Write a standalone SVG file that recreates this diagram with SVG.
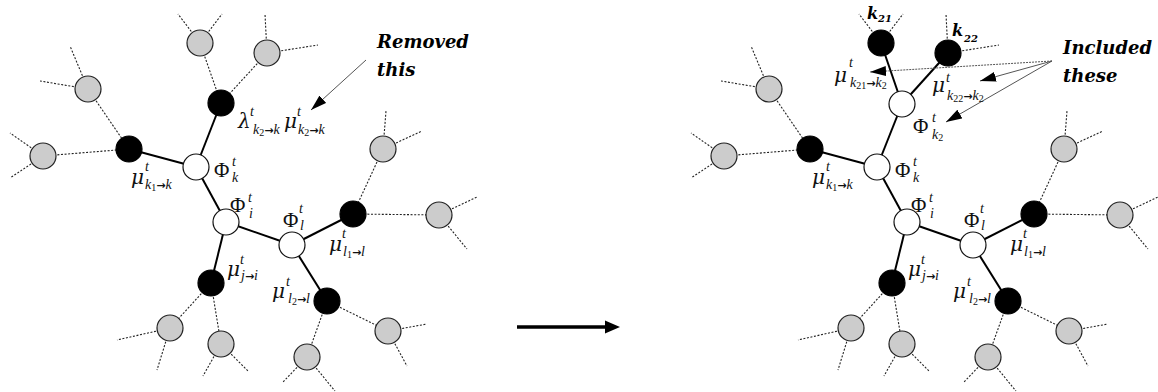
<svg xmlns="http://www.w3.org/2000/svg" width="1158" height="392" viewBox="0 0 1158 392">
<style>
.dot{stroke:#222;stroke-width:1.1;stroke-dasharray:2 1.6;fill:none}
.sol{stroke:#000;stroke-width:2;fill:none}
.gn{fill:#cccccc;stroke:#222;stroke-width:1.2}
.bn{fill:#000;stroke:#000;stroke-width:1.2}
.wn{fill:#fff;stroke:#111;stroke-width:1.2}
.P{font-family:"Liberation Serif","DejaVu Serif",serif;font-size:21px;fill:#111}
.m{font-family:"DejaVu Serif",serif;font-style:italic;font-size:20px;fill:#111}
.s{font-family:"Liberation Serif","DejaVu Serif",serif;font-style:italic;font-size:14px;fill:#111}
.d{font-size:10px;font-style:normal}
.ar{font-size:11px;font-style:normal;font-weight:bold;font-family:"DejaVu Sans",sans-serif}
.lab{font-family:"DejaVu Serif",serif;font-style:italic;font-weight:bold;font-size:18px;fill:#000}
.kb{font-family:"DejaVu Serif",serif;font-style:italic;font-weight:bold;font-size:16px;fill:#000}
.kd{font-family:"DejaVu Serif",serif;font-style:italic;font-weight:bold;font-size:10px;fill:#000}
.pt{stroke:#555;stroke-width:1;fill:none}
</style>
<defs>
<marker id="ah" viewBox="0 0 10 10" refX="10" refY="5" markerWidth="16" markerHeight="10" markerUnits="userSpaceOnUse" orient="auto" preserveAspectRatio="none">
<path d="M0,0 L10,5 L0,10 z" fill="#000"/>
</marker>
</defs>

<g id="connectors">
<g class="dot">
<line x1="200" y1="43" x2="178" y2="14"/><line x1="200" y1="43" x2="222" y2="14"/>
<line x1="267" y1="53" x2="265" y2="14"/><line x1="267" y1="53" x2="318" y2="45"/>
<line x1="88" y1="89" x2="70" y2="46"/><line x1="88" y1="89" x2="40" y2="81"/>
<line x1="43" y1="156" x2="10" y2="133"/><line x1="43" y1="156" x2="10" y2="178"/>
<line x1="383" y1="149" x2="386" y2="111"/><line x1="383" y1="149" x2="422" y2="131"/>
<line x1="439" y1="215" x2="477" y2="197"/><line x1="439" y1="215" x2="467" y2="249"/>
<line x1="388" y1="331" x2="427" y2="324"/><line x1="388" y1="331" x2="407" y2="366"/>
<line x1="307" y1="357" x2="283" y2="382"/><line x1="307" y1="357" x2="335" y2="391"/>
<line x1="170" y1="328" x2="117" y2="340"/><line x1="170" y1="328" x2="157" y2="370"/>
<line x1="221" y1="344" x2="203" y2="376"/><line x1="221" y1="344" x2="249" y2="372"/>
<line x1="200" y1="43" x2="221" y2="103"/><line x1="267" y1="53" x2="221" y2="103"/>
<line x1="88" y1="89" x2="129" y2="149"/><line x1="43" y1="156" x2="129" y2="149"/>
<line x1="383" y1="149" x2="353" y2="214"/><line x1="353" y1="214" x2="439" y2="215"/>
<line x1="327" y1="301" x2="388" y2="331"/><line x1="327" y1="301" x2="307" y2="357"/>
<line x1="211" y1="283" x2="170" y2="328"/><line x1="211" y1="283" x2="221" y2="344"/>
</g>
<g class="sol">
<line x1="129" y1="149" x2="196" y2="167"/><line x1="221" y1="103" x2="196" y2="167"/>
<line x1="196" y1="167" x2="226" y2="222"/><line x1="226" y1="222" x2="211" y2="283"/>
<line x1="226" y1="222" x2="292" y2="245"/><line x1="292" y1="245" x2="353" y2="214"/>
<line x1="292" y1="245" x2="327" y2="301"/>
</g>
<g class="dot">
<line x1="881" y1="43" x2="859" y2="14"/><line x1="881" y1="43" x2="903" y2="14"/>
<line x1="948" y1="53" x2="946" y2="14"/><line x1="948" y1="53" x2="999" y2="45"/>
<line x1="769" y1="89" x2="751" y2="46"/><line x1="769" y1="89" x2="721" y2="81"/>
<line x1="724" y1="156" x2="691" y2="133"/><line x1="724" y1="156" x2="691" y2="178"/>
<line x1="1064" y1="149" x2="1067" y2="111"/><line x1="1064" y1="149" x2="1103" y2="131"/>
<line x1="1120" y1="215" x2="1158" y2="197"/><line x1="1120" y1="215" x2="1148" y2="249"/>
<line x1="1069" y1="331" x2="1108" y2="324"/><line x1="1069" y1="331" x2="1088" y2="366"/>
<line x1="988" y1="357" x2="964" y2="382"/><line x1="988" y1="357" x2="1016" y2="391"/>
<line x1="851" y1="328" x2="798" y2="340"/><line x1="851" y1="328" x2="838" y2="370"/>
<line x1="902" y1="344" x2="884" y2="376"/><line x1="902" y1="344" x2="930" y2="372"/>
<line x1="769" y1="89" x2="810" y2="149"/><line x1="724" y1="156" x2="810" y2="149"/>
<line x1="1064" y1="149" x2="1034" y2="214"/><line x1="1034" y1="214" x2="1120" y2="215"/>
<line x1="1008" y1="301" x2="1069" y2="331"/><line x1="1008" y1="301" x2="988" y2="357"/>
<line x1="892" y1="283" x2="851" y2="328"/><line x1="892" y1="283" x2="902" y2="344"/>
</g>
<g class="sol">
<line x1="881" y1="43" x2="902" y2="104"/><line x1="948" y1="53" x2="902" y2="104"/>
<line x1="810" y1="149" x2="877" y2="167"/><line x1="902" y1="104" x2="877" y2="167"/>
<line x1="877" y1="167" x2="907" y2="222"/><line x1="907" y1="222" x2="892" y2="283"/>
<line x1="907" y1="222" x2="973" y2="245"/><line x1="973" y1="245" x2="1034" y2="214"/>
<line x1="973" y1="245" x2="1008" y2="301"/>
</g>
<line class="pt" x1="366" y1="60" x2="311" y2="110" marker-end="url(#ah)"/>
<line class="pt" x1="1052" y1="61" x2="870" y2="72" stroke-dasharray="2 1" marker-end="url(#ah)"/>
<line class="pt" x1="1052" y1="61" x2="980" y2="81" marker-end="url(#ah)"/>
<line class="pt" x1="1052" y1="61" x2="946" y2="122" marker-end="url(#ah)"/>
<line x1="517" y1="327" x2="607" y2="327" stroke="#000" stroke-width="3.3"/>
<polygon points="605,320.5 620,327 605,333.5" fill="#000"/>
</g>

<g id="L-g1"><circle class="gn" cx="200" cy="43" r="13"/></g>
<g id="L-g2"><circle class="gn" cx="267" cy="53" r="13"/></g>
<g id="L-g3"><circle class="gn" cx="88" cy="89" r="13"/></g>
<g id="L-g4"><circle class="gn" cx="43" cy="156" r="13"/></g>
<g id="L-g5"><circle class="gn" cx="170" cy="328" r="13"/></g>
<g id="L-g6"><circle class="gn" cx="221" cy="344" r="13"/></g>
<g id="L-g7"><circle class="gn" cx="307" cy="357" r="13"/></g>
<g id="L-g8"><circle class="gn" cx="439" cy="215" r="13"/></g>
<g id="L-g9"><circle class="gn" cx="388" cy="331" r="13"/></g>
<g id="L-g10"><circle class="gn" cx="383" cy="149" r="13"/></g>
<g id="L-k1"><circle class="bn" cx="129" cy="149" r="13"/>
<text class="m" x="131" y="184">μ</text><text class="s" x="145" y="171">t</text>
<text class="s" x="145" y="189">k<tspan class="d" dy="2">1</tspan><tspan class="ar" dy="-2">→</tspan>k</text></g>
<g id="L-k2"><circle class="bn" cx="221" cy="103" r="13"/>
<text class="m" x="238" y="128">λ</text><text class="s" x="250" y="116">t</text>
<text class="s" x="253" y="134">k<tspan class="d" dy="2">2</tspan><tspan class="ar" dy="-2">→</tspan>k</text>
<text class="m" x="284" y="128">μ</text><text class="s" x="297" y="116">t</text>
<text class="s" x="298" y="134">k<tspan class="d" dy="2">2</tspan><tspan class="ar" dy="-2">→</tspan>k</text></g>
<g id="L-Phik"><circle class="wn" cx="196" cy="167" r="13"/>
<text class="P" x="214" y="177">Φ</text><text class="s" x="232" y="166">t</text><text class="s" x="232" y="182">k</text></g>
<g id="L-Phii"><circle class="wn" cx="226" cy="222" r="13"/>
<text class="P" x="230" y="212">Φ</text><text class="s" x="248" y="202">t</text><text class="s" x="249" y="218">i</text></g>
<g id="L-Phil"><circle class="wn" cx="292" cy="245" r="13"/>
<text class="P" x="283" y="227">Φ</text><text class="s" x="299" y="213">t</text><text class="s" x="300" y="230">l</text></g>
<g id="L-j"><circle class="bn" cx="211" cy="283" r="13"/>
<text class="m" x="227" y="276">μ</text><text class="s" x="240" y="264">t</text>
<text class="s" x="241" y="280">j<tspan class="ar">→</tspan>i</text></g>
<g id="L-l1"><circle class="bn" cx="353" cy="214" r="13"/>
<text class="m" x="329" y="251">μ</text><text class="s" x="342" y="238">t</text>
<text class="s" x="343" y="256">l<tspan class="d" dy="2">1</tspan><tspan class="ar" dy="-2">→</tspan>l</text></g>
<g id="L-l2"><circle class="bn" cx="327" cy="301" r="13"/>
<text class="m" x="272" y="298">μ</text><text class="s" x="286" y="286">t</text>
<text class="s" x="288" y="303">l<tspan class="d" dy="2">2</tspan><tspan class="ar" dy="-2">→</tspan>l</text></g>
<g id="L-note"><text class="lab" x="377" y="48">Removed</text><text class="lab" x="377" y="76">this</text></g>

<g id="R-g3"><circle class="gn" cx="769" cy="89" r="13"/></g>
<g id="R-g4"><circle class="gn" cx="724" cy="156" r="13"/></g>
<g id="R-g5"><circle class="gn" cx="851" cy="328" r="13"/></g>
<g id="R-g6"><circle class="gn" cx="902" cy="344" r="13"/></g>
<g id="R-g7"><circle class="gn" cx="988" cy="357" r="13"/></g>
<g id="R-g8"><circle class="gn" cx="1120" cy="215" r="13"/></g>
<g id="R-g9"><circle class="gn" cx="1069" cy="331" r="13"/></g>
<g id="R-g10"><circle class="gn" cx="1064" cy="149" r="13"/></g>
<g id="R-k21"><circle class="bn" cx="881" cy="43" r="13"/>
<text class="kb" x="867" y="19">k</text><text class="kd" x="878" y="22">21</text>
<text class="m" x="834" y="82">μ</text><text class="s" x="849" y="67">t</text>
<text class="s" x="850" y="87">k<tspan class="d" dy="2">21</tspan><tspan class="ar" dy="-2">→</tspan>k<tspan class="d" dy="2">2</tspan></text></g>
<g id="R-k22"><circle class="bn" cx="948" cy="53" r="13"/>
<text class="kb" x="952" y="36">k</text><text class="kd" x="964" y="42">22</text>
<text class="m" x="932" y="92">μ</text><text class="s" x="946" y="82">t</text>
<text class="s" x="947" y="100">k<tspan class="d" dy="2">22</tspan><tspan class="ar" dy="-2">→</tspan>k<tspan class="d" dy="2">2</tspan></text></g>
<g id="R-Phik2"><circle class="wn" cx="902" cy="104" r="13"/>
<text class="P" x="913" y="133">Φ</text><text class="s" x="932" y="122">t</text>
<text class="s" x="932" y="139">k<tspan class="d" dy="2">2</tspan></text></g>
<g id="R-k1"><circle class="bn" cx="810" cy="149" r="13"/>
<text class="m" x="812" y="184">μ</text><text class="s" x="826" y="171">t</text>
<text class="s" x="826" y="189">k<tspan class="d" dy="2">1</tspan><tspan class="ar" dy="-2">→</tspan>k</text></g>
<g id="R-Phik"><circle class="wn" cx="877" cy="167" r="13"/>
<text class="P" x="895" y="177">Φ</text><text class="s" x="913" y="166">t</text><text class="s" x="913" y="182">k</text></g>
<g id="R-Phii"><circle class="wn" cx="907" cy="222" r="13"/>
<text class="P" x="911" y="212">Φ</text><text class="s" x="929" y="202">t</text><text class="s" x="930" y="218">i</text></g>
<g id="R-Phil"><circle class="wn" cx="973" cy="245" r="13"/>
<text class="P" x="964" y="227">Φ</text><text class="s" x="980" y="213">t</text><text class="s" x="981" y="230">l</text></g>
<g id="R-j"><circle class="bn" cx="892" cy="283" r="13"/>
<text class="m" x="908" y="276">μ</text><text class="s" x="921" y="264">t</text>
<text class="s" x="922" y="280">j<tspan class="ar">→</tspan>i</text></g>
<g id="R-l1"><circle class="bn" cx="1034" cy="214" r="13"/>
<text class="m" x="1010" y="251">μ</text><text class="s" x="1023" y="238">t</text>
<text class="s" x="1024" y="256">l<tspan class="d" dy="2">1</tspan><tspan class="ar" dy="-2">→</tspan>l</text></g>
<g id="R-l2"><circle class="bn" cx="1008" cy="301" r="13"/>
<text class="m" x="953" y="298">μ</text><text class="s" x="967" y="286">t</text>
<text class="s" x="969" y="303">l<tspan class="d" dy="2">2</tspan><tspan class="ar" dy="-2">→</tspan>l</text></g>
<g id="R-note"><text class="lab" x="1063" y="54">Included</text><text class="lab" x="1063" y="82">these</text></g>
</svg>
